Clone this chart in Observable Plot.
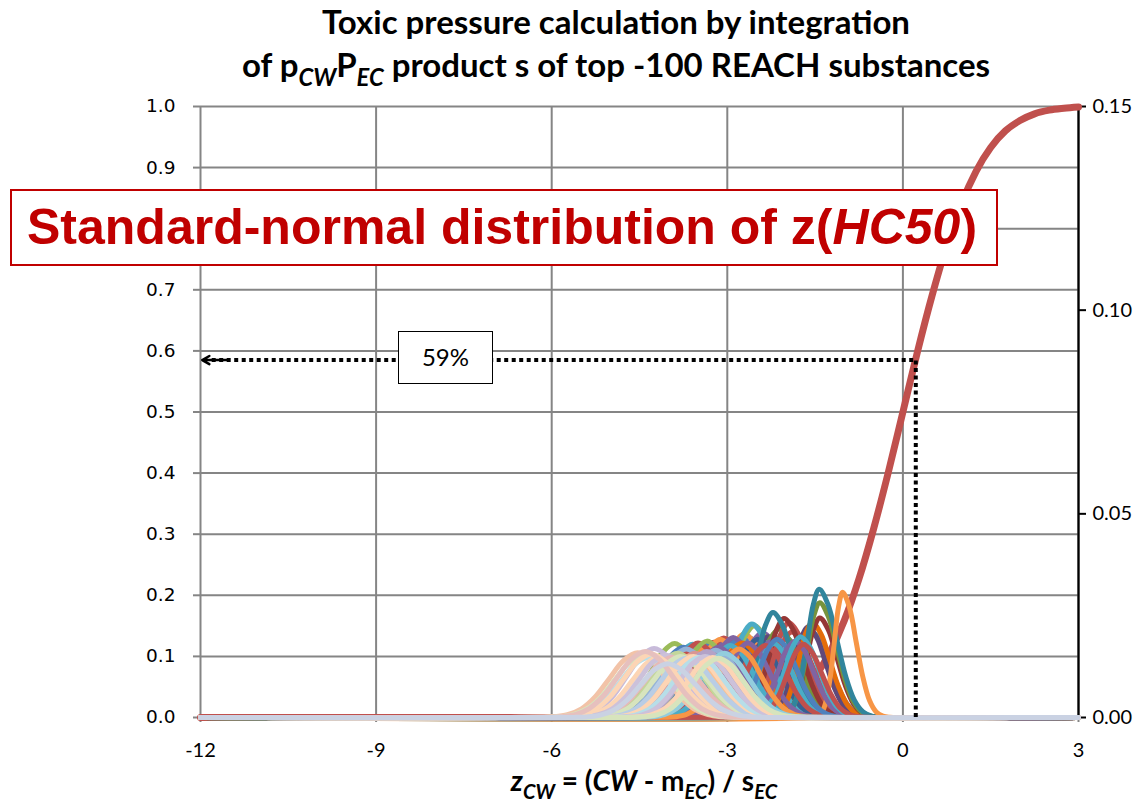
<!DOCTYPE html>
<html><head><meta charset="utf-8">
<script src="https://cdn.jsdelivr.net/npm/d3@7"></script>
<script src="https://cdn.jsdelivr.net/npm/@observablehq/plot@0.6"></script>
<style>
html,body{margin:0;padding:0;background:#fff;}
#wrap{position:relative;width:1146px;height:803px;overflow:hidden;font-family:Lato,"Open Sans",sans-serif;color:#000;}
#title{position:absolute;left:116px;top:0px;width:1000px;text-align:center;font-weight:700;font-size:33px;line-height:43px;}
.sb{font-size:0.72em;position:relative;top:0.38em;font-style:italic;line-height:0;}
#chart{position:absolute;left:0;top:92px;}
#xlabel{position:absolute;left:0;width:1288px;top:763px;text-align:center;font-weight:700;font-size:28px;line-height:34px;}
#banner{position:absolute;left:10px;top:189px;width:988px;height:77px;box-sizing:border-box;border:2px solid #C00000;background:#fff;color:#C00000;font-family:"Liberation Sans Narrow","Arial Narrow","Liberation Sans",sans-serif;font-weight:700;font-size:50px;line-height:73px;padding-left:15px;white-space:nowrap;}
#pct{position:absolute;left:398px;top:331px;width:95px;height:53px;box-sizing:border-box;border:1.5px solid #000;background:#fff;font-size:24px;line-height:50px;text-align:center;}
</style></head>
<body>
<div id="wrap">
  <div id="title">Toxic pressure calculation by integration<br>of p<span class="sb">CW</span>P<span class="sb">EC</span> product s of top -100 REACH substances</div>
  <div id="chart"></div>
  <div id="banner">Standard-normal distribution of z(<i>HC50</i>)</div>
  <div id="pct">59%</div>
  <div id="xlabel"><i>z</i><span class="sb">CW</span> = (<i>CW</i> - m<span class="sb">EC</span>) / s<span class="sb">EC</span></div>
</div>
<script>
// ---- axis ticks ----
const xTicks = [-12, -9, -6, -3, 0, 3];
const yTicks = [0, 0.1, 0.2, 0.3, 0.4, 0.5, 0.6, 0.7, 0.8, 0.9, 1.0];
const hiddenYTick = 0.8; // covered by the banner in the original
const rightTickValues = [0, 0.05, 0.10, 0.15];
const rightMax = 0.15;

// ---- standard-normal CDF of z(HC50) ----
const cdfZ = [-12, -5, -4, -3.5, -3, -2.75, -2.5, -2.25, -2, -1.75, -1.5, -1.25, -1, -0.75, -0.5, -0.25, 0, 0.25, 0.5, 0.75, 1, 1.25, 1.5, 1.75, 2, 2.25, 2.5, 2.75, 3];
const cdfP = [0, 0, 0, 0.0002, 0.0013, 0.003, 0.006, 0.012, 0.023, 0.040, 0.067, 0.106, 0.159, 0.227, 0.309, 0.401, 0.500, 0.599, 0.691, 0.773, 0.841, 0.894, 0.933, 0.960, 0.977, 0.988, 0.994, 0.997, 0.999];

// ---- p_CW * P_EC product curves (one per substance): centre, peak, left/right spread, colour ----
const bellCenter = [-3.23, -3.00, -2.62, -2.71, -2.40, -2.54, -2.58, -3.06, -3.59, -3.90, -3.45, -3.30, -3.12, -2.85, -2.90, -2.30, -2.05, -1.90, -2.12, -2.48, -2.75, -3.40, -2.25, -1.95, -2.03, -2.22, -1.55, -1.62, -1.55, -1.42, -1.42, -1.43, -2.20, -1.03,
  -3.75, -3.50, -3.35, -2.95, -2.65, -2.35, -2.15, -1.85, -1.75, -1.70, -2.80, -3.15,
  -3.70, -3.20, -3.55, -3.85, -3.35, -3.05, -3.65, -4.25, -4.53, -4.45, -4.35, -4.15, -4.05, -3.95, -3.80, -3.70, -3.58, -3.48, -3.38, -3.25, -3.15, -4.30, -4.40, -4.02];
const bellPeak = [0.123, 0.127, 0.130, 0.137, 0.139, 0.150, 0.153, 0.130, 0.120, 0.121, 0.118, 0.120, 0.128, 0.125, 0.131, 0.132, 0.135, 0.140, 0.145, 0.128, 0.122, 0.112, 0.125, 0.155, 0.162, 0.172, 0.140, 0.148, 0.155, 0.163, 0.188, 0.210, 0.121, 0.205,
  0.115, 0.122, 0.125, 0.118, 0.122, 0.118, 0.128, 0.125, 0.132, 0.120, 0.112, 0.115,
  0.112, 0.110, 0.105, 0.105, 0.108, 0.105, 0.100, 0.113, 0.106, 0.100, 0.098, 0.100, 0.102, 0.098, 0.100, 0.097, 0.100, 0.098, 0.100, 0.098, 0.097, 0.104, 0.108, 0.088];
const bellSdLeft = [0.40, 0.38, 0.36, 0.35, 0.34, 0.32, 0.31, 0.37, 0.41, 0.41, 0.41, 0.40, 0.37, 0.37, 0.36, 0.34, 0.31, 0.30, 0.30, 0.35, 0.37, 0.41, 0.32, 0.27, 0.26, 0.25, 0.25, 0.23, 0.23, 0.22, 0.21, 0.20, 0.30, 0.14,
  0.42, 0.40, 0.39, 0.37, 0.35, 0.33, 0.30, 0.28, 0.26, 0.27, 0.36, 0.38,
  0.43, 0.41, 0.43, 0.44, 0.42, 0.41, 0.44, 0.46, 0.48, 0.48, 0.47, 0.47, 0.46, 0.46, 0.46, 0.44, 0.44, 0.43, 0.43, 0.42, 0.42, 0.47, 0.48, 0.46];
const bellSdRight = [0.41, 0.40, 0.38, 0.37, 0.37, 0.36, 0.35, 0.40, 0.42, 0.42, 0.42, 0.41, 0.38, 0.40, 0.38, 0.37, 0.36, 0.35, 0.35, 0.37, 0.40, 0.43, 0.36, 0.33, 0.32, 0.32, 0.31, 0.30, 0.30, 0.29, 0.29, 0.30, 0.31, 0.23,
  0.43, 0.41, 0.40, 0.39, 0.37, 0.36, 0.34, 0.32, 0.31, 0.31, 0.38, 0.40,
  0.44, 0.42, 0.44, 0.46, 0.43, 0.42, 0.46, 0.46, 0.48, 0.48, 0.48, 0.48, 0.47, 0.47, 0.47, 0.46, 0.46, 0.44, 0.44, 0.43, 0.43, 0.48, 0.48, 0.48];
const bellColor = ["#C0504D", "#8064A2", "#4F81BD", "#F79646", "#8064A2", "#9BBB59", "#4BACC6", "#C0504D", "#4BACC6", "#9BBB59", "#8064A2", "#4F81BD", "#F79646", "#4F81BD", "#8064A2", "#604A7B", "#4F81BD", "#C0504D", "#77933C", "#376092", "#E46C0A", "#F79646", "#8064A2", "#C0504D", "#953735", "#31859C", "#4F81BD", "#5F497A", "#E46C0A", "#953735", "#77933C", "#31859C", "#4BACC6", "#F79646",
  "#4F81BD", "#C0504D", "#9BBB59", "#4BACC6", "#8064A2", "#C0504D", "#4F81BD", "#8064A2", "#4BACC6", "#C0504D", "#F79646", "#8064A2",
  "#95B3D7", "#95B3D7", "#D99694", "#C3D69B", "#B3A2C7", "#93CDDD", "#FAC090", "#C8BBDA", "#F2C3A8", "#D7E4BD", "#B7DEE8", "#FCD5B5", "#CCC1DA", "#E6B9B8", "#D7E4BD", "#B9CDE5", "#FCD5B5", "#B7DEE8", "#CCC1DA", "#FCD5B5", "#D7E4BD", "#FCD5B5", "#E6C0BE", "#CAD2E3"];

// shared bell profile (relative height at multiples of the spread)
const profileOffset = [-3.5, -3, -2.5, -2, -1.5, -1, -0.5, 0, 0.5, 1, 1.5, 2, 2.5, 3, 3.5];
const profileHeight = [0.002, 0.011, 0.044, 0.135, 0.325, 0.607, 0.882, 1, 0.882, 0.607, 0.325, 0.135, 0.044, 0.011, 0.002];

// annotation
const markedFraction = 0.585;
const markedZ = 0.22;

// ---- build tables ----
const cdfRows = cdfZ.map((z, i) => ({z, p: cdfP[i]}));
const bellRows = [];
bellCenter.forEach((c, i) => {
  bellRows.push({id: i, z: xTicks[0], p: 0, color: bellColor[i]});
  profileOffset.forEach((o, k) => {
    const s = o < 0 ? bellSdLeft[i] : bellSdRight[i];
    bellRows.push({id: i, z: c + o * s, p: bellPeak[i] * profileHeight[k], color: bellColor[i]});
  });
  bellRows.push({id: i, z: xTicks[xTicks.length - 1], p: 0, color: bellColor[i]});
});

const grid = "#858585";
const fmt1 = d3.format(".1f");
const chart = Plot.plot({
  width: 1146, height: 711,
  marginTop: 14, marginBottom: 86, marginLeft: 200, marginRight: 68,
  style: {background: "transparent", fontFamily: "Lato"},
  x: {domain: [-12, 3]},
  y: {domain: [0, 1]},
  color: {type: "identity"},
  marks: [
    Plot.gridY(yTicks.slice(1), {stroke: grid, strokeOpacity: 1, strokeWidth: 2}),
    Plot.gridX(xTicks, {stroke: grid, strokeOpacity: 1, strokeWidth: 2}),
    Plot.axisY(yTicks, {anchor: "left", tickSize: 7, tickPadding: 18, stroke: grid, strokeWidth: 2, tickFormat: d => Math.abs(d - hiddenYTick) < 1e-9 ? "" : fmt1(d), fontSize: 18.5, fontFamily: "DejaVu Sans", label: null}),
    Plot.axisX(xTicks, {anchor: "bottom", tickSize: 5, tickPadding: 20, stroke: grid, strokeWidth: 2, tickFormat: d => d, fontSize: 20, fontFamily: "Lato", label: null}),
    Plot.ruleX([xTicks[xTicks.length - 1]], {stroke: "#000", strokeWidth: 2.2}),
    Plot.axisY(rightTickValues.map(v => v / rightMax), {anchor: "right", tickSize: 7, tickPadding: 7, stroke: "#000", strokeWidth: 2, tickFormat: d => (d * rightMax).toFixed(2), fontSize: 20, fontFamily: "Lato", label: null}),
    Plot.line(cdfRows, {x: "z", y: "p", stroke: "#C0504D", strokeWidth: 7, curve: "monotone-x"}),
    Plot.line(bellRows, {x: "z", y: "p", z: "id", stroke: "color", strokeWidth: 5, curve: "catmull-rom", strokeLinejoin: "round"}),
    Plot.ruleY([markedFraction], {x1: -11.8, x2: markedZ, stroke: "#000", strokeWidth: 4, strokeDasharray: "4,3.5"}),
    Plot.ruleX([markedZ], {y1: 0, y2: markedFraction, stroke: "#000", strokeWidth: 4, strokeDasharray: "4,3.5"}),
    Plot.arrow([0], {x1: -11.55, x2: -11.97, y1: markedFraction, y2: markedFraction, stroke: "#000", strokeWidth: 2.5, headLength: 12, inset: 0})
  ]
});
document.getElementById("chart").appendChild(chart);
</script>
</body></html>
